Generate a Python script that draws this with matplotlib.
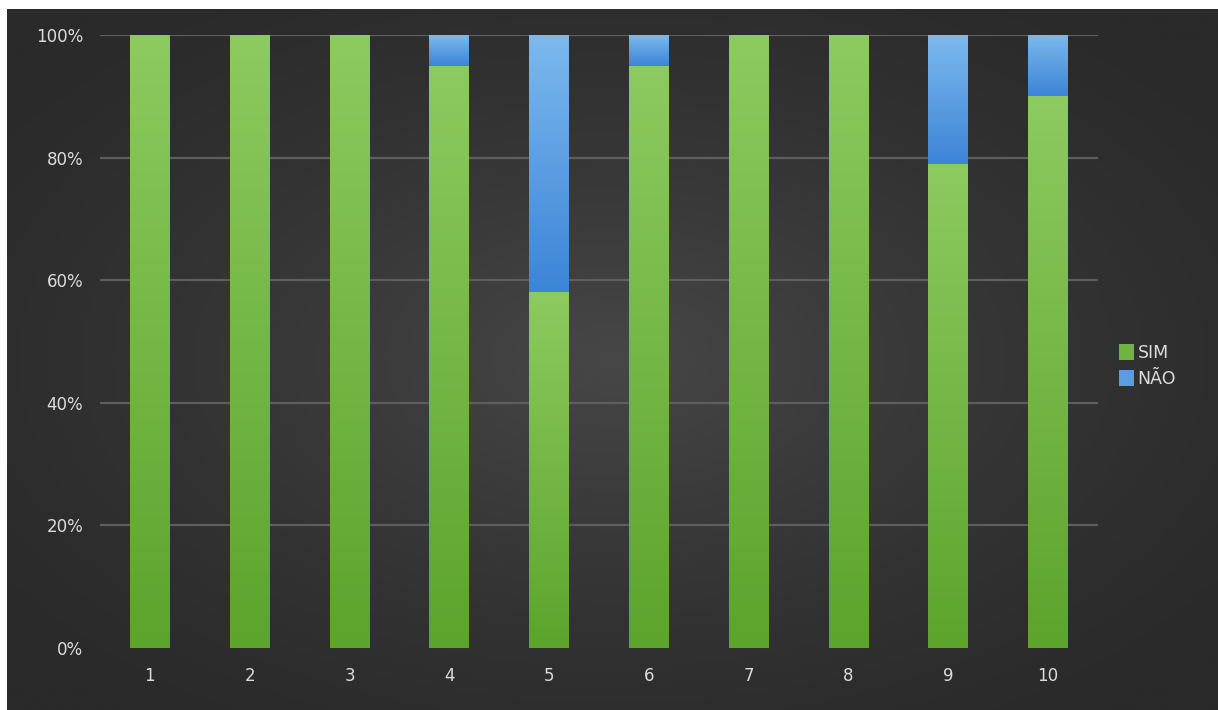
import numpy as np
import matplotlib.pyplot as plt
from matplotlib.colors import LinearSegmentedColormap
from matplotlib.ticker import PercentFormatter

# Data
categories = ['1', '2', '3', '4', '5', '6', '7', '8', '9', '10']
sim = [100, 100, 100, 95, 58, 95, 100, 100, 79, 90]
nao = [0, 0, 0, 5, 42, 5, 0, 0, 21, 10]

W, H = 1218, 710
fig = plt.figure(figsize=(W / 100, H / 100), dpi=100)
fig.patch.set_facecolor('white')

# dark background with radial glow (white strip at top/left like the screenshot)
bg = fig.add_axes([7 / W, 0, 1 - 7 / W, 1 - 9 / H])
bg.set_axis_off()
yy, xx = np.mgrid[0:1:300j, 0:1:500j]
r = np.sqrt(((xx - 0.5) / 0.65) ** 2 + ((yy - 0.5) / 0.65) ** 2)
glow = np.clip(1 - r, 0, 1) ** 1.4
bg_cmap = LinearSegmentedColormap.from_list('bg', ['#2a2a2a', '#474747'])
bg.imshow(glow, cmap=bg_cmap, aspect='auto', extent=[0, 1, 0, 1], vmin=0, vmax=1)
bg.set_xlim(0, 1)
bg.set_ylim(0, 1)

ax = fig.add_axes([100 / W, 62 / H, 998 / W, 613 / H])
ax.patch.set_alpha(0)
x = np.arange(len(categories))

green = LinearSegmentedColormap.from_list('g', ['#5ca42c', '#8dca60'])
blue = LinearSegmentedColormap.from_list('b', ['#3c84d6', '#7cb9ee'])

bars_sim = ax.bar(x, sim, width=0.4, color='#6fb43f', label='SIM', zorder=2)
bars_nao = ax.bar(x, nao, width=0.4, bottom=sim, color='#5a9de3', label='NÃO', zorder=2)

grad = np.linspace(0, 1, 256).reshape(-1, 1)
for bars, cmap in [(bars_sim, green), (bars_nao, blue)]:
    for p in bars:
        if p.get_height() <= 0:
            continue
        x0, y0 = p.get_x(), p.get_y()
        im = ax.imshow(grad, cmap=cmap, origin='lower', aspect='auto',
                       extent=[x0, x0 + p.get_width(), y0, y0 + p.get_height()],
                       zorder=3)
        im.set_clip_path(p)

ax.set_xlim(-0.5, len(categories) - 0.5)
ax.set_ylim(0, 100)
ax.set_yticks(range(0, 101, 20))
ax.yaxis.set_major_formatter(PercentFormatter(decimals=0))
ax.set_xticks(x)
ax.set_xticklabels(categories)
ax.grid(axis='y', color='#5e5e5e', linewidth=1.6, zorder=1)
ax.get_ygridlines()[0].set_visible(False)
ax.set_axisbelow(True)
for s in ax.spines.values():
    s.set_visible(False)
ax.tick_params(length=0, colors='#dcdcdc', labelsize=12)
ax.tick_params(axis='y', pad=12)
ax.tick_params(axis='x', pad=14)

leg = ax.legend(loc='center left', bbox_to_anchor=(1.005, 0.46), frameon=False,
                fontsize=12.5, labelcolor='#dcdcdc', handlelength=0.9,
                handleheight=1.0, handletextpad=0.2, labelspacing=0.45)

fig.savefig('out.png', dpi=100, facecolor=fig.get_facecolor())
